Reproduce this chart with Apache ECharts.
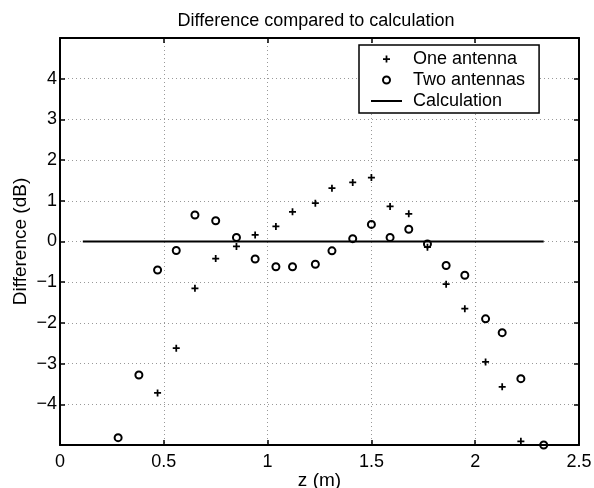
<!DOCTYPE html>
<html>
<head>
<meta charset="utf-8">
<script src="https://cdn.jsdelivr.net/npm/echarts@6/dist/echarts.min.js"></script>
<style>html,body{margin:0;padding:0;background:#fff}#c{width:594px;height:488px}</style>
</head>
<body>
<div id="c"></div>
<script>
// ---- data ----
const titleText = 'Difference compared to calculation';
const xName = 'z (m)';
const yName = 'Difference (dB)';
const xRange = [0, 2.5];
const xInterval = 0.5;
const yRange = [-5, 5];
const yInterval = 1;
const yHiddenLabels = [-5, 5];

const oneName = 'One antenna';
const xOne = [0.47, 0.56, 0.65, 0.75, 0.85, 0.94, 1.04, 1.12, 1.23, 1.31, 1.41, 1.50, 1.59, 1.68, 1.77, 1.86, 1.95, 2.05, 2.13, 2.22];
const yOne = [-3.72, -2.62, -1.15, -0.42, -0.12, 0.16, 0.37, 0.73, 0.94, 1.31, 1.45, 1.57, 0.86, 0.68, -0.14, -1.05, -1.65, -2.96, -3.57, -4.91];

const twoName = 'Two antennas';
const xTwo = [0.28, 0.38, 0.47, 0.56, 0.65, 0.75, 0.85, 0.94, 1.04, 1.12, 1.23, 1.31, 1.41, 1.50, 1.59, 1.68, 1.77, 1.86, 1.95, 2.05, 2.13, 2.22, 2.33];
const yTwo = [-4.82, -3.28, -0.70, -0.22, 0.65, 0.51, 0.10, -0.43, -0.62, -0.62, -0.56, -0.23, 0.07, 0.42, 0.10, 0.30, -0.06, -0.59, -0.83, -1.90, -2.24, -3.37, -5.00];

const calcName = 'Calculation';
const xCalc = [0.11, 2.33];
const yCalc = [0, 0];

// ---- chart ----
const FONT = '"Liberation Sans", Arial, Helvetica, sans-serif';
const FS = 18;
const FSN = 19;
const pair = (xs, ys) => xs.map((x, i) => [x, ys[i]]);
const plusPath = 'path://M-1,-4H1V-1H4V1H1V4H-1V1H-4V-1H-1Z';
const linePath = 'path://M0,0H31V2H0Z';
const fmt = v => yHiddenLabels.includes(v) ? '' : String(v).replace('-', '\u2212');

const chart = echarts.init(document.getElementById('c'), null, {renderer: 'canvas'});
const axisCommon = {
  axisLine: {show: true, onZero: false, lineStyle: {color: '#000', width: 2}},
  axisTick: {show: true, inside: true, length: 5, lineStyle: {color: '#000', width: 1.5}},
};
const circleStyle = {color: 'rgba(0,0,0,0)', borderColor: '#000', borderWidth: 2, opacity: 1};
chart.setOption({
  animation: false,
  backgroundColor: '#fff',
  textStyle: {fontFamily: FONT},
  title: {
    text: titleText, left: 311, top: 7, textAlign: 'center',
    textStyle: {fontFamily: FONT, fontSize: FS, fontWeight: 'normal', color: '#000'}
  },
  grid: {left: 60, right: 15, top: 38, bottom: 43, containLabel: false, outerBoundsMode: 'none'},
  legend: {
    orient: 'vertical', left: 359, top: 45,
    padding: [5, 14, 3, 12],
    itemWidth: 31, itemHeight: 7, itemGap: 3,
    borderColor: '#000', borderWidth: 1.5, backgroundColor: '#fff',
    textStyle: {fontFamily: FONT, fontSize: FS, color: '#000', lineHeight: 18, padding: [0, 0, 0, 6]},
    data: [
      {name: oneName, icon: plusPath, itemStyle: {color: '#000', borderWidth: 0}},
      {name: twoName, icon: 'circle', itemStyle: circleStyle},
      {name: calcName, icon: linePath, itemStyle: {color: '#000', borderWidth: 0}}
    ]
  },
  xAxis: [
    Object.assign({
      type: 'value', min: xRange[0], max: xRange[1], interval: xInterval,
      name: xName, nameLocation: 'middle', nameGap: 26, nameMoveOverlap: false,
      nameTextStyle: {fontFamily: FONT, fontSize: FSN, color: '#000'},
      axisLabel: {fontFamily: FONT, fontSize: FS, color: '#000', margin: 8},
      splitLine: {show: true, lineStyle: {color: '#999', type: [1, 3], width: 1}}
    }, axisCommon),
    Object.assign({
      type: 'value', position: 'top', min: xRange[0], max: xRange[1], interval: xInterval,
      axisLabel: {show: false}, splitLine: {show: false}
    }, axisCommon)
  ],
  yAxis: [
    Object.assign({
      type: 'value', min: yRange[0], max: yRange[1], interval: yInterval,
      name: yName, nameLocation: 'middle', nameGap: 30, nameMoveOverlap: false,
      nameTextStyle: {fontFamily: FONT, fontSize: FSN, color: '#000'},
      axisLabel: {fontFamily: FONT, fontSize: FS, color: '#000', margin: 3, formatter: fmt},
      splitLine: {show: true, lineStyle: {color: '#999', type: [1, 3], width: 1}}
    }, axisCommon),
    Object.assign({
      type: 'value', position: 'right', min: yRange[0], max: yRange[1], interval: yInterval,
      axisLabel: {show: false}, splitLine: {show: false}
    }, axisCommon)
  ],
  series: [
    {
      name: calcName, type: 'line', data: pair(xCalc, yCalc), symbol: 'none',
      lineStyle: {color: '#000', width: 2}, itemStyle: {color: '#000'}, z: 2
    },
    {
      name: oneName, type: 'scatter', data: pair(xOne, yOne), symbol: plusPath, symbolSize: 7,
      itemStyle: {color: '#000', opacity: 1}, clip: false, z: 3
    },
    {
      name: twoName, type: 'scatter', data: pair(xTwo, yTwo), symbol: 'circle', symbolSize: 7,
      itemStyle: circleStyle, clip: false, z: 3
    }
  ]
});
</script>
</body>
</html>
